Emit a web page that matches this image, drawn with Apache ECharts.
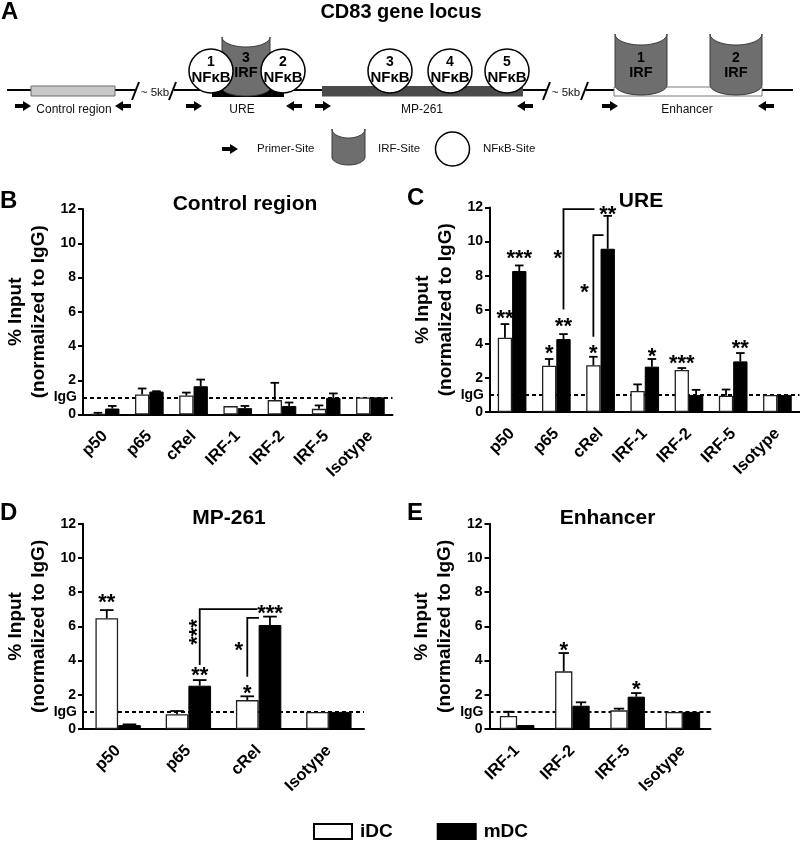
<!DOCTYPE html>
<html><head><meta charset="utf-8">
<script src="https://cdn.jsdelivr.net/npm/echarts@6/dist/echarts.min.js"></script>
<style>html,body{margin:0;padding:0;background:#fff}#c{width:800px;height:849px}</style>
</head><body><div id="c"></div>
<script>
const FF = '"Liberation Sans", Arial, Helvetica, sans-serif';

// ---------- data ----------
// Panel B: Control region
const catsB = ['p50', 'p65', 'cRel', 'IRF-1', 'IRF-2', 'IRF-5', 'Isotype'];
const iDC_B = [0.02, 1.17, 1.11, 0.49, 0.84, 0.33, 1];
const iDC_B_err = [0.08, 0.35, 0.17, 0, 1.01, 0.2, 0];
const mDC_B = [0.35, 1.34, 1.65, 0.37, 0.5, 0.97, 1];
const mDC_B_err = [0.15, 0.02, 0.39, 0.13, 0.2, 0.26, 0];
const stars_B = [];
const brackets_B = [];

// Panel C: URE
const catsC = ['p50', 'p65', 'cRel', 'IRF-1', 'IRF-2', 'IRF-5', 'Isotype'];
const iDC_C = [4.36, 2.72, 2.74, 1.23, 2.47, 0.95, 1];
const iDC_C_err = [0.80, 0.39, 0.50, 0.39, 0.11, 0.37, 0];
const mDC_C = [8.27, 4.28, 9.58, 2.66, 1.0, 2.97, 1];
const mDC_C_err = [0.33, 0.29, 1.93, 0.45, 0.3, 0.49, 0];
// [category, x offset in half-bar units, y value, text, vertical]
const stars_C = [
  [0, -1, 5.78, '**'], [0, 1, 9.3, '***'], [1, -1, 3.73, '*'], [1, 1, 5.3, '**'],
  [2, -1, 3.73, '*'], [2, 1, 11.84, '**'], [3, 1, 3.54, '*'], [4, -1, 3.09, '***'],
  [5, 1, 4.02, '**'], [1, 0.22, 9.3, '*'], [2, -2.24, 7.31, '*']
];
// [startCat, startOffset, yLow, yHigh, endCat, endOffset]
const brackets_C = [[1, 1, 6.02, 11.9, 2, -0.84], [2, -1, 4.42, 10.38, 2, 0.42]];

// Panel D: MP-261
const catsD = ['p50', 'p65', 'cRel', 'Isotype'];
const iDC_D = [6.47, 0.86, 1.69, 1];
const iDC_D_err = [0.48, 0.19, 0.22, 0];
const mDC_D = [0.23, 2.53, 6.08, 1];
const mDC_D_err = [0.04, 0.33, 0.49, 0];
const stars_D = [
  [0, -1, 7.64, '**'], [1, 1, 3.41, '**'], [2, -1, 2.32, '*'], [2, 1, 7.05, '***'],
  [1, 0.41, 5.67, '***', 1], [2, -1.74, 4.87, '*']
];
const brackets_D = [[1, 1, 3.74, 7.01, 2, -0.11], [2, -1, 3.06, 6.5, 2, 0.03]];

// Panel E: Enhancer
const catsE = ['IRF-1', 'IRF-2', 'IRF-5', 'Isotype'];
const iDC_E = [0.76, 3.37, 1.09, 1];
const iDC_E_err = [0.25, 1.07, 0.1, 0];
const mDC_E = [0.23, 1.36, 1.89, 1];
const mDC_E_err = [0, 0.2, 0.21, 0];
const stars_E = [[1, -1, 4.87, '*'], [2, 1, 2.57, '*']];
const brackets_E = [];

const yTicks = [0, 2, 4, 6, 8, 10, 12];

// ---------- layout ----------
const panels = [
  { cats: catsB, iDC: iDC_B, iErr: iDC_B_err, mDC: mDC_B, mErr: mDC_B_err, stars: stars_B, brackets: brackets_B,
    grid: { left: 83, top: 209, width: 309.5, height: 205.5 }, ratio: 0.324 },
  { cats: catsC, iDC: iDC_C, iErr: iDC_C_err, mDC: mDC_C, mErr: mDC_C_err, stars: stars_C, brackets: brackets_C,
    grid: { left: 490, top: 207.5, width: 309.5, height: 204.5 }, ratio: 0.324 },
  { cats: catsD, iDC: iDC_D, iErr: iDC_D_err, mDC: mDC_D, mErr: mDC_D_err, stars: stars_D, brackets: brackets_D,
    grid: { left: 83, top: 523.7, width: 281, height: 205.3 }, ratio: 0.323 },
  { cats: catsE, iDC: iDC_E, iErr: iDC_E_err, mDC: mDC_E, mErr: mDC_E_err, stars: stars_E, brackets: brackets_E,
    grid: { left: 489.5, top: 523.7, width: 221, height: 205.3 }, ratio: 0.313 }
];

function errItem(ratio) {
  return function (params, api) {
    const i = api.value(0), v = api.value(1), e = api.value(2), s = api.value(3);
    if (!(e > 0)) return;
    const hb = api.size([1, 0])[0] * ratio / 2;
    const c = api.coord([i, v]);
    const t = api.coord([i, v + e]);
    const x = c[0] + s * hb;
    const cap = hb * 0.6;
    return { type: 'group', children: [
      { type: 'line', shape: { x1: x, y1: c[1], x2: x, y2: t[1] }, style: { stroke: '#000', lineWidth: 1.8 } },
      { type: 'line', shape: { x1: x - cap, y1: t[1], x2: x + cap, y2: t[1] }, style: { stroke: '#000', lineWidth: 1.8 } }
    ] };
  };
}
function starItem(list, ratio) {
  return function (params, api) {
    const d = list[params.dataIndex];
    const hb = api.size([1, 0])[0] * ratio / 2;
    const p = api.coord([d[0], d[2]]);
    const fs = 22;
    return { type: 'text', x: p[0] + d[1] * hb, y: p[1], rotation: d[4] ? Math.PI / 2 : 0,
      style: { text: d[3], x: 0, y: fs * 0.23, fill: '#000', font: 'bold ' + fs + 'px ' + FF,
        align: 'center', verticalAlign: 'middle', textAlign: 'center', textVerticalAlign: 'middle' } };
  };
}
function bracketItem(list, ratio) {
  return function (params, api) {
    const d = list[params.dataIndex];
    const hb = api.size([1, 0])[0] * ratio / 2;
    const p0 = api.coord([d[0], d[2]]);
    const p1 = api.coord([d[0], d[3]]);
    const pe = api.coord([d[4], d[3]]);
    const x0 = p0[0] + d[1] * hb, xe = pe[0] + d[5] * hb;
    return { type: 'polyline', shape: { points: [[x0, p0[1]], [x0, p1[1]], [xe, p1[1]]] },
      style: { stroke: '#000', lineWidth: 1.8, fill: null } };
  };
}

const grids = [], xAxes = [], yAxes = [], series = [];
panels.forEach((P, k) => {
  grids.push(Object.assign({ outerBoundsMode: 'none', containLabel: false }, P.grid));
  xAxes.push({ type: 'category', gridIndex: k, data: P.cats,
    axisLine: { lineStyle: { color: '#000', width: 2 } },
    axisTick: { alignWithLabel: true, length: 6, lineStyle: { color: '#000', width: 2 } },
    axisLabel: { rotate: 45, interval: 0, margin: 19, color: '#000', fontSize: 16.5, fontWeight: 'bold', fontFamily: FF },
    splitLine: { show: false } });
  yAxes.push({ type: 'value', gridIndex: k, min: yTicks[0], max: yTicks[yTicks.length - 1], interval: 2,
    axisLine: { show: true, lineStyle: { color: '#000', width: 2 } },
    axisTick: { show: true, length: 5, lineStyle: { color: '#000', width: 2 } },
    axisLabel: { color: '#000', fontSize: 14, fontWeight: 'bold', fontFamily: FF, margin: 7 },
    splitLine: { show: false },
    name: '% Input\n(normalized to IgG)', nameLocation: 'middle', nameGap: 33,
    nameTextStyle: { color: '#000', fontSize: 19, fontWeight: 'bold', fontFamily: FF, lineHeight: 23 } });
  const bw = (P.ratio * 100) + '%';
  series.push({ type: 'bar', name: 'iDC', xAxisIndex: k, yAxisIndex: k, data: P.iDC, barWidth: bw, barGap: '0%', z: 2,
    itemStyle: { color: '#fff', borderColor: '#222', borderWidth: 1.3 },
    markLine: { silent: true, z: 1, symbol: ['none', 'none'], data: [{ yAxis: 1 }],
      lineStyle: { type: [4, 3], color: '#000', width: 2 },
      label: { position: 'start', formatter: 'IgG', distance: 6, color: '#000', fontSize: 14, fontWeight: 'bold', fontFamily: FF } } });
  series.push({ type: 'bar', name: 'mDC', xAxisIndex: k, yAxisIndex: k, data: P.mDC, barWidth: bw, barGap: '0%', z: 2,
    itemStyle: { color: '#000', borderColor: '#000', borderWidth: 1 } });
  const errData = P.iDC.map((v, i) => [i, v, P.iErr[i], -1]).concat(P.mDC.map((v, i) => [i, v, P.mErr[i], 1]));
  series.push({ type: 'custom', coordinateSystem: 'cartesian2d', xAxisIndex: k, yAxisIndex: k, z: 3, silent: true,
    encode: { x: 0, y: 1 }, data: errData, renderItem: errItem(P.ratio) });
  if (P.stars.length) series.push({ type: 'custom', coordinateSystem: 'cartesian2d', xAxisIndex: k, yAxisIndex: k, z: 4, silent: true,
    encode: { x: 0, y: 1 }, data: P.stars.map(d => [d[0], d[2]]), renderItem: starItem(P.stars, P.ratio) });
  if (P.brackets.length) series.push({ type: 'custom', coordinateSystem: 'cartesian2d', xAxisIndex: k, yAxisIndex: k, z: 4, silent: true,
    encode: { x: 0, y: 1 }, data: P.brackets.map(d => [d[0], d[2]]), renderItem: bracketItem(P.brackets, P.ratio) });
});

// ---------- panel A diagram (graphic) ----------
const G = [];
function txt(x, y, text, size, bold, align, color) {
  G.push({ type: 'text', x: x, y: y, z: 20, silent: true, style: { text: text, fill: color || '#000',
    font: (bold ? 'bold ' : '') + size + 'px ' + FF, align: align || 'center', verticalAlign: 'middle',
    textAlign: align || 'center', textVerticalAlign: 'middle' } });
}
function ln(x1, y1, x2, y2, w, z) {
  G.push({ type: 'line', z: z || 10, silent: true, shape: { x1, y1, x2, y2 }, style: { stroke: '#000', lineWidth: w || 2 } });
}
function arrow(x, y, dir) {
  const L = 16, sh = 8, hh = 5, th = 2;
  let pts = [[0, -th], [sh, -th], [sh, -hh], [L, 0], [sh, hh], [sh, th], [0, th]];
  if (dir < 0) pts = pts.map(p => [L - p[0], p[1]]);
  G.push({ type: 'polygon', z: 10, silent: true, shape: { points: pts.map(p => [x + p[0], y + p[1]]) }, style: { fill: '#000' } });
}
function cyl(cx, top, sideBot, w, dipT, dipB, z) {
  const pts = [], rx = w / 2, N = 24;
  for (let i = 0; i <= N; i++) { const t = Math.PI - Math.PI * i / N; pts.push([cx + rx * Math.cos(t), top + dipT * Math.sin(t)]); }
  for (let i = 0; i <= N; i++) { const t = Math.PI * i / N; pts.push([cx + rx * Math.cos(t), sideBot + dipB * Math.sin(t)]); }
  G.push({ type: 'polygon', z: z || 12, silent: true, shape: { points: pts }, style: { fill: '#6e6e6e', stroke: '#3a3a3a', lineWidth: 1 } });
}
function nfkb(cx, cy, num) {
  G.push({ type: 'circle', z: 14, silent: true, shape: { cx, cy, r: 22 }, style: { fill: '#fff', stroke: '#000', lineWidth: 1.5 } });
  G.push({ type: 'text', x: cx, y: cy - 9, z: 15, silent: true, style: { text: num, fill: '#000', font: 'bold 14px ' + FF, align: 'center', verticalAlign: 'middle', textAlign: 'center', textVerticalAlign: 'middle' } });
  G.push({ type: 'text', x: cx, y: cy + 7, z: 15, silent: true, style: { text: 'NFκB', fill: '#000', font: 'bold 15px ' + FF, align: 'center', verticalAlign: 'middle', textAlign: 'center', textVerticalAlign: 'middle' } });
}
function irfText(cx, num) {
  G.push({ type: 'text', x: cx, y: 58, z: 13, silent: true, style: { text: num, fill: '#000', font: 'bold 14px ' + FF, align: 'center', verticalAlign: 'middle', textAlign: 'center', textVerticalAlign: 'middle' } });
  G.push({ type: 'text', x: cx, y: 73, z: 13, silent: true, style: { text: 'IRF', fill: '#000', font: 'bold 14.5px ' + FF, align: 'center', verticalAlign: 'middle', textAlign: 'center', textVerticalAlign: 'middle' } });
}

// main DNA line with breaks
ln(7, 90, 135, 90); ln(174, 90, 546, 90); ln(586, 90, 793, 90);
ln(132, 100, 139, 82); ln(169, 100, 176, 82); ln(543, 100, 550, 82); ln(581, 100, 588, 82);
txt(155, 92.5, '~ 5kb', 11.5, false, 'center', '#111');
txt(566, 92.5, '~ 5kb', 11.5, false, 'center', '#111');
// regions
G.push({ type: 'rect', z: 11, silent: true, shape: { x: 31, y: 86, width: 84, height: 10 }, style: { fill: '#c8c8c8', stroke: '#6a6a6a', lineWidth: 1 } });
G.push({ type: 'rect', z: 11, silent: true, shape: { x: 212, y: 88, width: 72, height: 9 }, style: { fill: '#000' } });
G.push({ type: 'rect', z: 11, silent: true, shape: { x: 322, y: 86, width: 201, height: 10.5 }, style: { fill: '#4a4a4a' } });
G.push({ type: 'rect', z: 11, silent: true, shape: { x: 614, y: 87, width: 148, height: 9 }, style: { fill: '#fff', stroke: '#7a7a7a', lineWidth: 1 } });
// IRF sites
cyl(246, 37, 88, 48, 10, 8); irfText(246, '3');
cyl(641, 34, 85, 52, 11, 10); irfText(641, '1');
cyl(736, 34, 85, 52, 11, 10); irfText(736, '2');
// NFkB sites
nfkb(211, 71, '1'); nfkb(283, 71, '2'); nfkb(390, 71, '3'); nfkb(450, 71, '4'); nfkb(507, 71, '5');
// primers
arrow(15, 106, 1); arrow(115, 106, -1);
arrow(186, 106, 1); arrow(286, 106, -1);
arrow(315, 106, 1); arrow(517, 106, -1);
arrow(602, 106, 1); arrow(758, 106, -1);
txt(74, 110, 'Control region', 12, false, 'center', '#111');
txt(242, 110, 'URE', 12, false, 'center', '#111');
txt(422, 110, 'MP-261', 12, false, 'center', '#111');
txt(687, 110, 'Enhancer', 12, false, 'center', '#111');
// key
arrow(222, 149, 1);
txt(257, 149, 'Primer-Site', 11.5, false, 'left', '#111');
cyl(348.5, 129, 157, 33, 9, 8);
txt(378, 149, 'IRF-Site', 11.5, false, 'left', '#111');
G.push({ type: 'circle', z: 14, silent: true, shape: { cx: 452.5, cy: 149, r: 17 }, style: { fill: '#fff', stroke: '#000', lineWidth: 1.5 } });
txt(483, 149, 'NFκB-Site', 11.5, false, 'left', '#111');
txt(401, 12, 'CD83 gene locus', 20, true);

// panel letters and titles
txt(1, 12.5, 'A', 24, true, 'left');
txt(0, 201.5, 'B', 24, true, 'left');
txt(407, 198.5, 'C', 24, true, 'left');
txt(0, 513.5, 'D', 24, true, 'left');
txt(407, 513.5, 'E', 24, true, 'left');
txt(245, 204, 'Control region', 21, true);
txt(641, 201, 'URE', 21, true);
txt(229, 518.5, 'MP-261', 21, true);
txt(607.5, 518.5, 'Enhancer', 21, true);

const option = {
  animation: false,
  backgroundColor: '#fff',
  textStyle: { fontFamily: FF },
  grid: grids, xAxis: xAxes, yAxis: yAxes, series: series,
  legend: {
    left: 313, top: 822, padding: 0, orient: 'horizontal', icon: 'rect', itemWidth: 38, itemHeight: 15, itemGap: 44,
    selectedMode: false,
    textStyle: { color: '#000', fontSize: 19, fontWeight: 'bold', fontFamily: FF, padding: [0, 0, 0, 3] },
    data: [
      { name: 'iDC', itemStyle: { color: '#fff', borderColor: '#000', borderWidth: 2 } },
      { name: 'mDC', itemStyle: { color: '#000', borderColor: '#000', borderWidth: 2 } }
    ]
  },
  graphic: { elements: G }
};
const chart = echarts.init(document.getElementById('c'), null, { renderer: 'canvas' });
chart.setOption(option);
</script></body></html>
